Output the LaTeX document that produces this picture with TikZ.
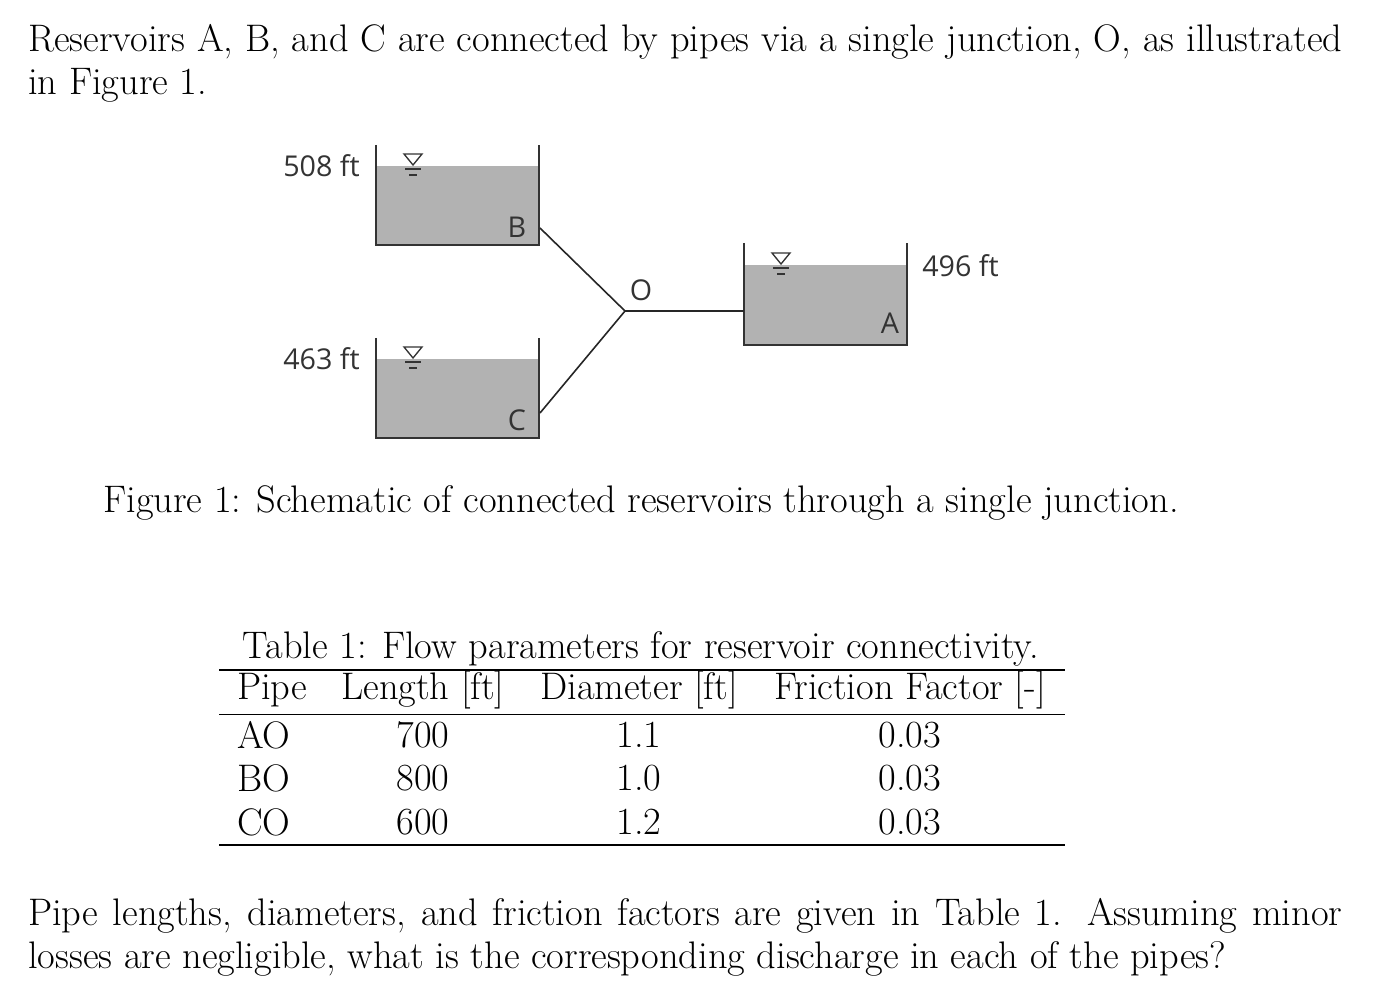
\documentclass[tikz,border=0pt]{standalone}
\usepackage{fontspec}
\newfontfamily\figfont{Open Sans}
\begin{document}
\begin{tikzpicture}[x=0.75pt,y=-0.75pt,
  body/.style={font=\fontsize{28.8}{32.3}\selectfont, inner sep=0},
  lab/.style={font=\figfont\fontsize{21.5}{24}\selectfont, text=black!80, inner sep=0},
  wall/.style={line width=1.5pt, draw=black!80},
  pipe/.style={line width=1.2pt, draw=black!85},
  sym/.style={line width=1pt, draw=black!80},
  water/.style={fill=black!30}]
\useasboundingbox (0,0) rectangle (1389,984);
\node[body, anchor=north west, text width=985.5pt, align=justify] (p1) at (28,24)
 {Reservoirs A, B, and C are connected by pipes via a single junction, O, as illustrated\linebreak in Figure 1.};
% tanks
\foreach \n/\y/\w/\L/\ly in {B/145/166/B/227, C/338/359/C/420}{
  \fill[water] (376,\w) rectangle (539,\y+100);
  \draw[wall] (376,\y) -- (376,\y+100) -- (539,\y+100) -- (539,\y);
  \node[lab] (lab\n) at (517,\ly) {\L};
  \draw[sym] (404,\w-12) -- (422,\w-12) -- (413,\w-1) -- cycle;
  \draw[sym] (405,\w+3) -- (421,\w+3) (409,\w+9) -- (417,\w+9);
}
\fill[water] (744,265) rectangle (907,345);
\draw[wall] (744,243) -- (744,345) -- (907,345) -- (907,243);
\draw[sym] (772,253) -- (790,253) -- (781,264) -- cycle;
\draw[sym] (773,268) -- (789,268) (777,274) -- (785,274);
\node[lab] (labA) at (890,323) {A};
\coordinate (O) at (625,311);
\coordinate (bB) at (540,228);
\coordinate (bC) at (540,413);
\coordinate (bA) at (744,311);
\draw[pipe] (bB) -- (O) -- (bC);
\draw[pipe] (O) -- (bA);
\node[lab] (labO) at (641,290) {O};
\node[lab, anchor=east] (h1) at (360,166) {508 ft};
\node[lab, anchor=east] (h2) at (360,359) {463 ft};
\node[lab, anchor=west] (h3) at (922,266) {496 ft};
\node[body] (cap) at (641,503) {Figure 1: Schematic of connected reservoirs through a single junction.};
\node[body] (tcap) at (641,649) {Table 1: Flow parameters for reservoir connectivity.};
\draw[line width=0.9pt] (219,670) -- (1065,670);
\draw[line width=0.6pt] (219,714) -- (1065,714);
\draw[line width=0.9pt] (219,845) -- (1065,845);
\node[body, anchor=west] (hp) at (237,690) {Pipe};
\node[body] (hl) at (423,690) {Length [ft]};
\node[body] (hd) at (639,690) {Diameter [ft]};
\node[body] (hf) at (910,690) {Friction Factor [-]};
\foreach \p/\l/\d/\yy in {AO/700/1.1/735, BO/800/1.0/778, CO/600/1.2/822}{
  \node[body, anchor=west] (r\p) at (237,\yy) {\p};
  \node[body] (l\p) at (423,\yy) {\l};
  \node[body] (d\p) at (639,\yy) {\d};
  \node[body] (f\p) at (910,\yy) {0.03};
}
\node[body, anchor=north west, text width=985.5pt, align=justify] (p2) at (28,898)
 {Pipe lengths, diameters, and friction factors are given in Table 1. Assuming minor\linebreak losses are negligible, what is the corresponding discharge in each of the pipes?};
\end{tikzpicture}
\end{document}
